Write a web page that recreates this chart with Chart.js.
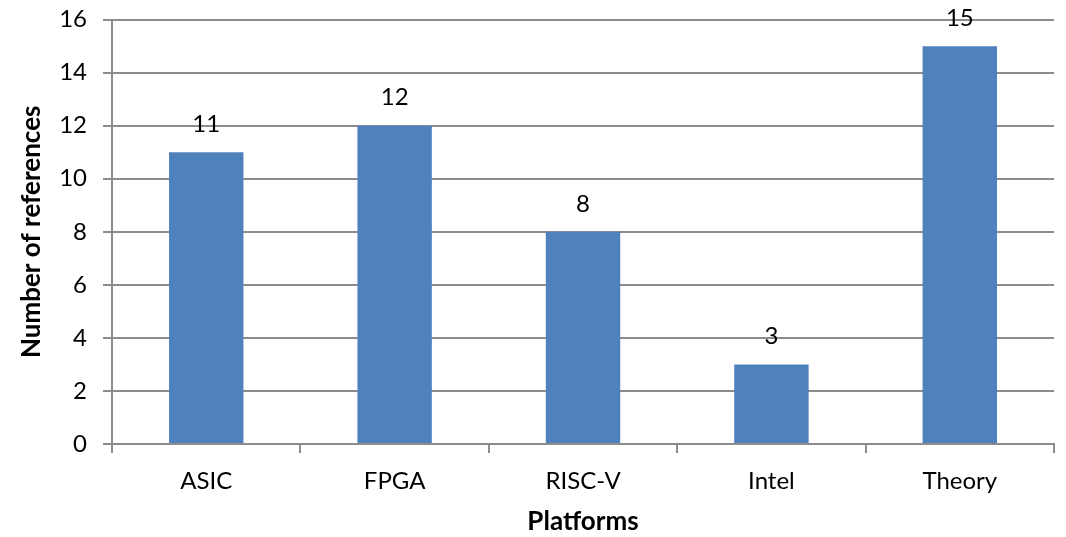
<!DOCTYPE html>
<html>
<head>
<meta charset="utf-8">
<script src="https://cdn.jsdelivr.net/npm/chart.js@4"></script>
<style>
  html, body { margin: 0; padding: 0; background: #fff; }
  #wrap { width: 1066px; height: 537px; }
</style>
</head>
<body>
<div id="wrap"><canvas id="miGrafica" width="1066" height="537"></canvas></div>
<script>
var plataformas = ['ASIC', 'FPGA', 'RISC-V', 'Intel', 'Theory'];
var referencias = [11, 12, 8, 3, 15];
var ticksY = [0, 2, 4, 6, 8, 10, 12, 14, 16];

var fuente = 'Lato, "Open Sans", sans-serif';
var gris = '#8c8c8c';

// numbers over each bar
var etiquetasBarras = {
  id: 'etiquetasBarras',
  afterDatasetsDraw: function (chart) {
    var ctx = chart.ctx;
    var meta = chart.getDatasetMeta(0);
    ctx.save();
    ctx.fillStyle = '#000';
    ctx.font = '24px ' + fuente;
    ctx.textAlign = 'center';
    ctx.textBaseline = 'middle';
    meta.data.forEach(function (bar, i) {
      ctx.fillText(String(referencias[i]), bar.x, bar.y - 28);
    });
    ctx.restore();
  }
};

var miCanvas = document.getElementById('miGrafica').getContext('2d');

var grafica = new Chart(miCanvas, {
  type: 'bar',
  data: {
    labels: plataformas,
    datasets: [{
      label: 'Number of references',
      data: referencias,
      backgroundColor: '#4f81bd',
      borderColor: '#4f81bd',
      borderWidth: 0,
      barPercentage: 0.395,
      categoryPercentage: 1
    }]
  },
  options: {
    responsive: false,
    animation: false,
    layout: { padding: { top: 0, right: 12, left: 16, bottom: 0 } },
    plugins: {
      legend: { display: false },
      tooltip: { enabled: false }
    },
    scales: {
      x: {
        grid: {
          offset: true,
          drawOnChartArea: false,
          drawTicks: true,
          tickLength: 9,
          color: gris,
          lineWidth: 2
        },
        border: { color: gris, width: 2 },
        ticks: {
          color: '#000',
          font: { family: fuente, size: 24 },
          padding: 14
        },
        title: {
          display: true,
          text: 'Platforms',
          color: '#000',
          font: { family: fuente, size: 26, weight: 'bold' },
          padding: { top: -4, bottom: 0 }
        }
      },
      y: {
        min: 0,
        max: 16,
        afterBuildTicks: function (eje) {
          eje.ticks = ticksY.map(function (v) { return { value: v }; });
        },
        grid: {
          color: gris,
          lineWidth: 2,
          drawTicks: true,
          tickLength: 9
        },
        border: { color: gris, width: 2 },
        ticks: {
          color: '#000',
          font: { family: fuente, size: 24, lineHeight: 0.3 },
          padding: 16
        },
        title: {
          display: true,
          text: 'Number of references',
          color: '#000',
          font: { family: fuente, size: 26, weight: 'bold' },
          padding: { top: 0, bottom: -4 }
        }
      }
    }
  },
  plugins: [etiquetasBarras]
});
</script>
</body>
</html>
